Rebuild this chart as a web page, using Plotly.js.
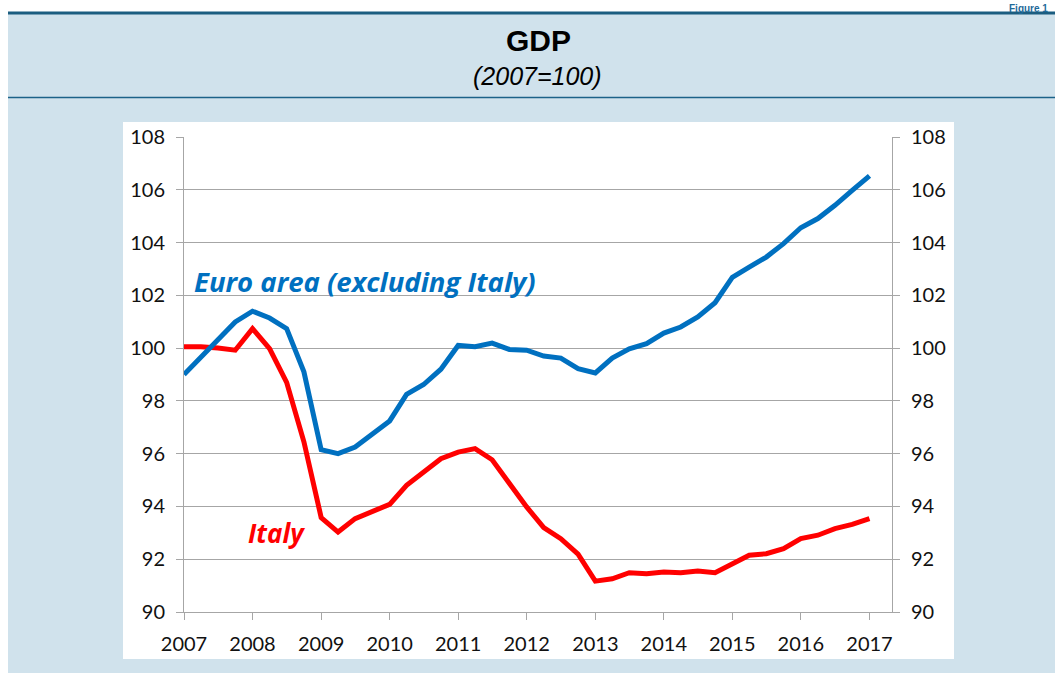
<!DOCTYPE html>
<html>
<head>
<meta charset="utf-8">
<script src="https://cdn.plot.ly/plotly-3.0.1.min.js"></script>
<style>
  html, body { margin: 0; padding: 0; background: #ffffff; }
  #chart { width: 1055px; height: 673px; }
</style>
</head>
<body>
<div id="chart"></div>
<script>
// quarterly GDP index, 2007=100
var quarters = [
  "2007-01-01", "2007-04-01", "2007-07-01", "2007-10-01",
  "2008-01-01", "2008-04-01", "2008-07-01", "2008-10-01",
  "2009-01-01", "2009-04-01", "2009-07-01", "2009-10-01",
  "2010-01-01", "2010-04-01", "2010-07-01", "2010-10-01",
  "2011-01-01", "2011-04-01", "2011-07-01", "2011-10-01",
  "2012-01-01", "2012-04-01", "2012-07-01", "2012-10-01",
  "2013-01-01", "2013-04-01", "2013-07-01", "2013-10-01",
  "2014-01-01", "2014-04-01", "2014-07-01", "2014-10-01",
  "2015-01-01", "2015-04-01", "2015-07-01", "2015-10-01",
  "2016-01-01", "2016-04-01", "2016-07-01", "2016-10-01",
  "2017-01-01"
];

var euroArea = [
  99.0, 99.66, 100.3, 100.99,
  101.4, 101.14, 100.74, 99.1,
  96.15, 96.0, 96.25, 96.76,
  97.24, 98.25, 98.62, 99.2,
  100.1, 100.05, 100.19, 99.95,
  99.92, 99.7, 99.62, 99.22,
  99.06, 99.62, 99.97, 100.17,
  100.57, 100.8, 101.18, 101.72,
  102.68, 103.07, 103.45, 103.96,
  104.56, 104.91, 105.41, 105.98,
  106.53
];

var italy = [
  100.05, 100.05, 100.0, 99.92,
  100.74, 99.98, 98.7, 96.45,
  93.58, 93.03, 93.54, 93.79,
  94.08, 94.8, 95.32, 95.81,
  96.06, 96.19, 95.77, 94.87,
  93.98, 93.2, 92.78, 92.19,
  91.17, 91.26, 91.49, 91.45,
  91.52, 91.49, 91.55, 91.49,
  91.83, 92.15, 92.21, 92.4,
  92.78, 92.91, 93.16, 93.32,
  93.54
];

var yTicks = [90, 92, 94, 96, 98, 100, 102, 104, 106, 108];

// plot area in page pixels
var L = 184, R = 892, T = 137, B = 612;
function px(x) { return (x - L) / (R - L); }
function py(y) { return (B - y) / (B - T); }

var tickFont = { family: "Lato, 'Open Sans', sans-serif", size: 20, color: "#111111" };
var labelFont = "'Open Sans', Lato, sans-serif";

var data = [
  {
    x: quarters, y: italy, type: "scatter", mode: "lines",
    name: "Italy", line: { color: "#ff0000", width: 5 },
    hoverinfo: "x+y"
  },
  {
    x: quarters, y: euroArea, type: "scatter", mode: "lines",
    name: "Euro area (excluding Italy)", yaxis: "y2",
    line: { color: "#0070c0", width: 5 },
    hoverinfo: "x+y"
  }
];

var yBase = {
  range: [90, 108], tickvals: yTicks, ticktext: yTicks.map(String),
  showgrid: true, gridcolor: "#a6a6a6", gridwidth: 1,
  showline: true, linecolor: "#a6a6a6", linewidth: 1,
  ticks: "outside", ticklen: 7, tickcolor: "#a6a6a6",
  ticklabelstandoff: 7, tickfont: tickFont, zeroline: false, fixedrange: true
};

var layout = {
  width: 1055, height: 673,
  margin: { l: L, r: 1055 - R, t: T, b: 673 - B, pad: 0 },
  paper_bgcolor: "#ffffff", plot_bgcolor: "#ffffff",
  showlegend: false,
  xaxis: {
    type: "date", range: ["2007-01-01", "2017-05-01"],
    tick0: "2007-01-01", dtick: "M12", tickformat: "%Y",
    showgrid: false, showline: true, linecolor: "#a6a6a6", linewidth: 1,
    ticks: "outside", ticklen: 7, tickcolor: "#a6a6a6",
    ticklabelstandoff: 7, tickfont: tickFont, zeroline: false, fixedrange: true
  },
  yaxis: Object.assign({}, yBase, { side: "left" }),
  yaxis2: Object.assign({}, yBase, { side: "right", overlaying: "y", showgrid: false }),
  shapes: [
    { type: "rect", xref: "paper", yref: "paper", layer: "below",
      x0: px(8), x1: px(1060), y0: py(14), y1: py(680),
      fillcolor: "#d0e2ec", line: { width: 0 } },
    { type: "line", xref: "paper", yref: "paper", layer: "below",
      x0: px(8), x1: px(1060), y0: py(13), y1: py(13),
      line: { color: "#1b5d80", width: 3 } },
    { type: "line", xref: "paper", yref: "paper", layer: "below",
      x0: px(8), x1: px(1060), y0: py(97.5), y1: py(97.5),
      line: { color: "#1b6288", width: 1.5 } },
    { type: "rect", xref: "paper", yref: "paper", layer: "below",
      x0: px(123), x1: px(954), y0: py(122), y1: py(659),
      fillcolor: "#ffffff", line: { width: 0 } }
  ],
  annotations: [
    { xref: "paper", yref: "paper", x: px(538), y: py(41), xanchor: "center", yanchor: "middle",
      text: "<b>GDP</b>", showarrow: false,
      font: { family: "'Liberation Sans Narrow', 'Liberation Sans', Arial, sans-serif", size: 30, color: "#000000" } },
    { xref: "paper", yref: "paper", x: px(537), y: py(76), xanchor: "center", yanchor: "middle",
      text: "<i>(2007=100)</i>", showarrow: false,
      font: { family: "'Liberation Sans Narrow', 'Liberation Sans', Arial, sans-serif", size: 25, color: "#000000" } },
    { xref: "paper", yref: "paper", x: px(1050), y: py(1), xanchor: "right", yanchor: "top",
      text: "<b>Figure 1</b>", showarrow: false,
      font: { family: "'Liberation Sans', Arial, sans-serif", size: 10, color: "#1f6a9a" } },
    { xref: "x", yref: "y", x: "2007-02-10", y: 102.53, xanchor: "left", yanchor: "middle",
      text: "<b><i>Euro area (excluding Italy)</i></b>", showarrow: false,
      font: { family: labelFont, size: 27.5, color: "#0070c0" } },
    { xref: "x", yref: "y", x: "2007-11-25", y: 92.98, xanchor: "left", yanchor: "middle",
      text: "<b><i>Italy</i></b>", showarrow: false,
      font: { family: labelFont, size: 26, color: "#ff0000" } }
  ]
};

Plotly.newPlot("chart", data, layout, { displayModeBar: false, staticPlot: true });
</script>
</body>
</html>
